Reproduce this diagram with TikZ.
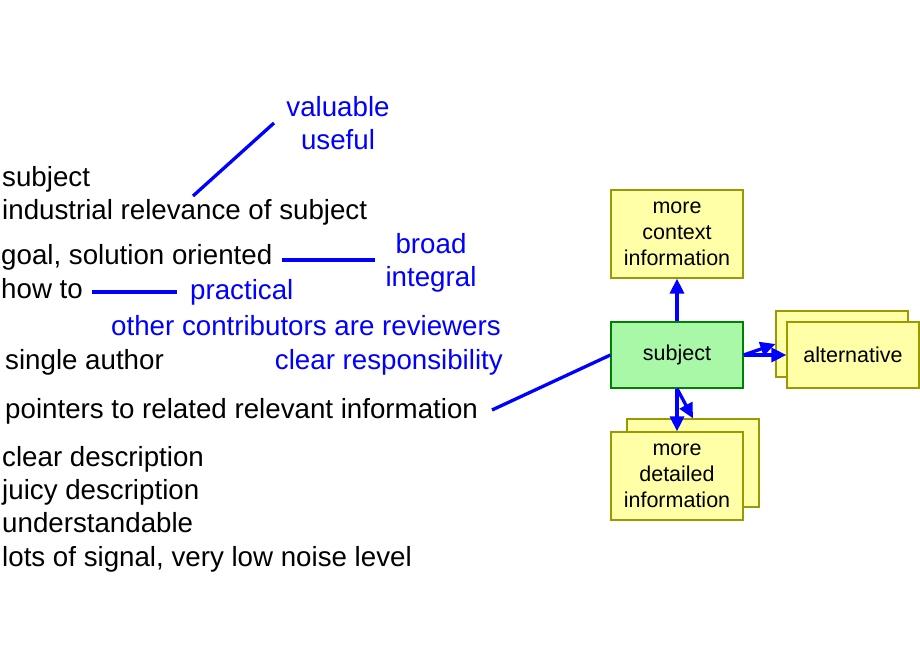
\documentclass[tikz,border=0pt]{standalone}
\usepackage{fontspec}
\setmainfont{Liberation Sans}
\usetikzlibrary{arrows.meta}
\definecolor{boxyellow}{HTML}{FFFFA8}
\definecolor{boxolive}{HTML}{999900}
\definecolor{boxgreen}{HTML}{A8F8A8}
\definecolor{boxgreenline}{HTML}{008000}
\definecolor{pureblue}{HTML}{0000FF}
\tikzset{
  bigtxt/.style={inner sep=0pt, font=\fontsize{27.7}{33}\selectfont},
  blacktxt/.style={bigtxt, text=black},
  bluetxt/.style={bigtxt, text=pureblue},
  ybox/.style={draw=boxolive, fill=boxyellow, line width=1.2pt, minimum width=132pt, inner sep=0pt, align=center, font=\fontsize{21.5}{26}\selectfont},
  gbox/.style={ybox, draw=boxgreenline, fill=boxgreen},
  blueline/.style={draw=pureblue, line width=3.3pt},
  bluearrow/.style={blueline, -{Triangle[length=15pt,width=14pt]}}
}
\begin{document}
\begin{tikzpicture}[x=1pt,y=-1pt]
\useasboundingbox[fill=white] (0,0) rectangle (920,660);

% left black texts
\node[blacktxt, anchor=base west] (t1) at (2,187) {subject};
\node[blacktxt, anchor=base west] (t2) at (2,220) {industrial relevance of subject};
\node[blacktxt, anchor=base west] (t3) at (1,264) {goal, solution oriented};
\node[blacktxt, anchor=base west] (t4) at (1,298) {how to};
\node[blacktxt, anchor=base west] (t5) at (5,369) {single author};
\node[blacktxt, anchor=base west] (t6) at (5,418) {pointers to related relevant information};
\node[blacktxt, anchor=base west] (t7) at (2,466) {clear description};
\node[blacktxt, anchor=base west] (t8) at (2,499) {juicy description};
\node[blacktxt, anchor=base west] (t9) at (2,532) {understandable};
\node[blacktxt, anchor=base west] (t10) at (2,566) {lots of signal, very low noise level};

% blue texts
\node[bluetxt, anchor=base] (b1) at (338,117) {valuable};
\node[bluetxt, anchor=base] (b2) at (338,150) {useful};
\node[bluetxt, anchor=base] (b3) at (431,253) {broad};
\node[bluetxt, anchor=base] (b4) at (431,286) {integral};
\node[bluetxt, anchor=base west] (b5) at (190,299) {practical};
\node[bluetxt, anchor=base west] (b6) at (111,335) {other contributors are reviewers};
\node[bluetxt, anchor=base east] (b7) at (503,369) {clear responsibility};

% blue line end points
\coordinate (l1a) at (193,196);
\coordinate (l1b) at (274,123);
\coordinate (l2a) at (282,260);
\coordinate (l2b) at (375,260);
\coordinate (l3a) at (92,292);
\coordinate (l3b) at (177,292);
\coordinate (l4a) at (492,410);

% boxes
\node[ybox, minimum height=88pt] (ctx) at (677,234) {more\\context\\information};
\node[ybox, minimum height=66pt] (altback) at (842,344) {};
\node[ybox, minimum height=66pt] (alt) at (853,355) {alternative};
\node[ybox, minimum height=88pt] (detback) at (693,463) {};
\node[ybox, minimum height=88pt] (det) at (677,476) {more\\detailed\\information};
\node[gbox, minimum height=66pt] (subj) at (677,355) {subject};

% connectors
\draw[blueline] (l1a) -- (l1b);
\draw[blueline] (l2a) -- (l2b);
\draw[blueline] (l3a) -- (l3b);
\draw[blueline] (l4a) -- (subj.west);

\draw[bluearrow] (subj.north) -- (ctx.south);
\draw[bluearrow] (subj.east) -- (alt.west);
\draw[bluearrow] (subj.east) -- (altback.west);
\draw[bluearrow] (subj.south) -- (det.north);
\draw[bluearrow] (subj.south) -- (detback.north);
\end{tikzpicture}
\end{document}
